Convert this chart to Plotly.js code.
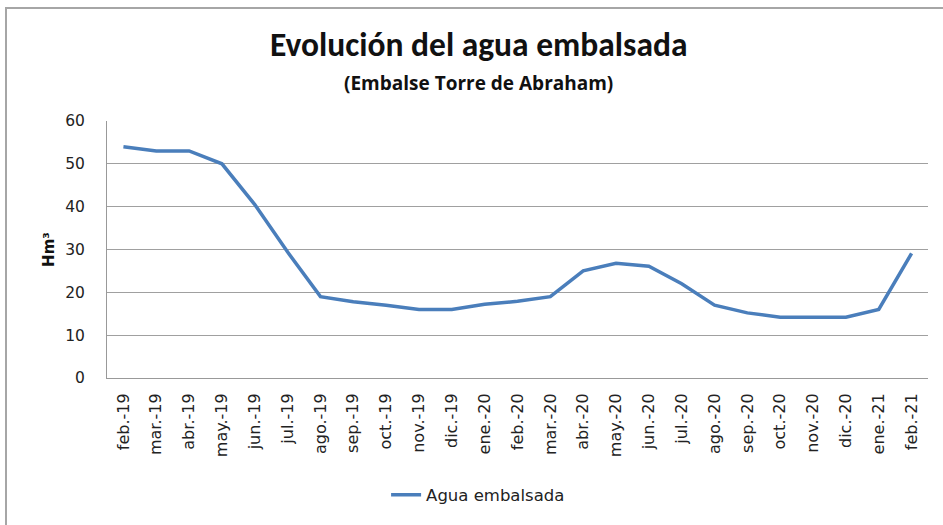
<!DOCTYPE html>
<html><head><meta charset="utf-8">
<script src="https://cdn.plot.ly/plotly-3.0.1.min.js"></script>
<style>
html,body{margin:0;padding:0;background:#fff;}
#wrap{position:relative;width:943px;height:525px;}
#chart{width:943px;height:525px;}
#frame{position:absolute;left:5px;top:7px;width:940px;height:520px;border-top:2px solid #a6a6a6;border-left:2px solid #a6a6a6;pointer-events:none;}
</style></head>
<body>
<div id="wrap"><div id="chart"></div><div id="frame"></div></div>
<script>
const months = ["feb.-19","mar.-19","abr.-19","may.-19","jun.-19","jul.-19","ago.-19","sep.-19","oct.-19","nov.-19","dic.-19","ene.-20","feb.-20","mar.-20","abr.-20","may.-20","jun.-20","jul.-20","ago.-20","sep.-20","oct.-20","nov.-20","dic.-20","ene.-21","feb.-21"];
const agua = [54,53,53,50,40.5,29.4,19,17.8,17,16,16,17.2,17.9,19,25,26.8,26.1,22,17,15.2,14.2,14.2,14.2,16,29.1];
const yTicks = [0,10,20,30,40,50,60];
const titleText = "Evolución del agua embalsada";
const subtitleText = "(Embalse Torre de Abraham)";

const TFONT = "Carlito, Lato, 'Open Sans', sans-serif";
const FONT = "'DejaVu Sans', Verdana, sans-serif";

Plotly.newPlot('chart', [{
  x: months, y: agua, type: 'scatter', mode: 'lines',
  name: 'Agua embalsada',
  line: {color: '#4a7ebb', width: 3.5}
}], {
  width: 943, height: 525,
  margin: {l: 107, r: 15, t: 121, b: 147},
  paper_bgcolor: '#fff', plot_bgcolor: '#fff',
  font: {family: FONT, color: '#222'},
  annotations: [
    {text: '<b>' + titleText + '</b>', xref: 'paper', yref: 'paper', x: 0.452, y: 1.296,
     xanchor: 'center', yanchor: 'middle', showarrow: false,
     font: {family: TFONT, size: 33.5, color: '#111'}},
    {text: '<b>' + subtitleText + '</b>', xref: 'paper', yref: 'paper', x: 0.452, y: 1.148,
     xanchor: 'center', yanchor: 'middle', showarrow: false,
     font: {family: "'Open Sans', sans-serif", size: 19, color: '#111'}}
  ],
  xaxis: {
    type: 'category', tickangle: -90,
    tickfont: {family: FONT, size: 16, color: '#222'},
    showgrid: false, showline: true, linecolor: '#999', linewidth: 1,
    ticks: '', range: [-0.5, 24.5], fixedrange: true, ticklabelstandoff: 8
  },
  yaxis: {
    range: [0, 60], tickvals: yTicks, ticktext: yTicks.map(String),
    tickfont: {family: FONT, size: 15.5, color: '#222'},
    showgrid: true, gridcolor: '#a0a0a0', gridwidth: 1,
    showline: true, linecolor: '#999', linewidth: 1,
    ticks: '', zeroline: false, ticklabelstandoff: 18,
    title: {text: '<b>Hm³</b>', font: {family: FONT, size: 15, color: '#111'}, standoff: 6}
  },
  showlegend: true,
  legend: {orientation: 'h', x: 0.452, xanchor: 'center', y: -0.455, yanchor: 'middle',
    font: {family: FONT, size: 16.5, color: '#222'}},
}, {displayModeBar: false, staticPlot: true});
</script>
</body></html>
